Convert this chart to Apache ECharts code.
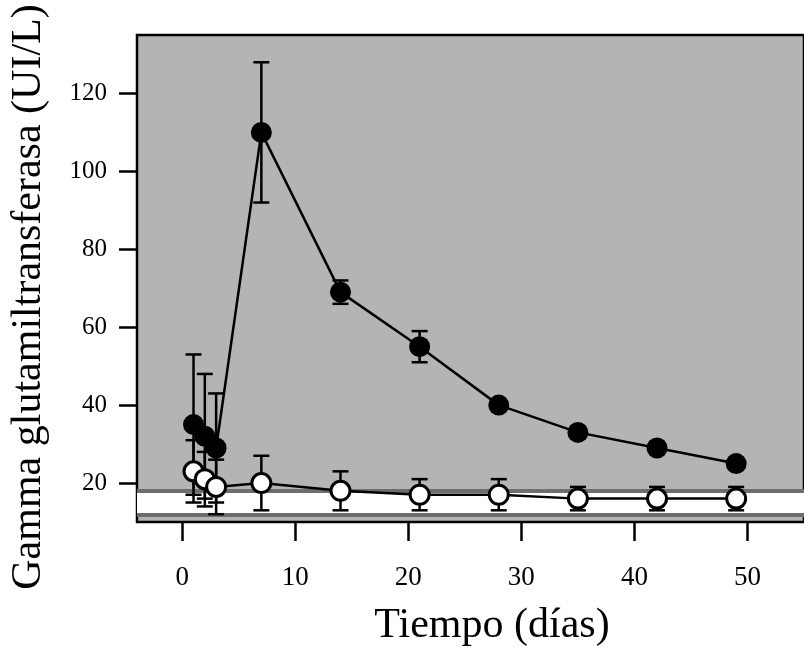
<!DOCTYPE html>
<html>
<head>
<meta charset="utf-8">
<style>
  html, body { margin: 0; padding: 0; background: #fff; }
  #chart { width: 804px; height: 648px; }
</style>
<script src="https://cdn.jsdelivr.net/npm/echarts@6/dist/echarts.min.js"></script>
</head>
<body>
<div id="chart"></div>
<script>
// Sampling days
const days = [1, 2, 3, 7, 14, 21, 28, 35, 42, 49];

// Treated group (filled circles): mean and error
const treatedMean = [35, 32, 29, 110, 69, 55, 40, 33, 29, 25];
const treatedErr  = [18, 16, 14, 18, 3, 4, 1, 1.5, 1.5, 1];

// Control group (open circles): mean and error
const controlMean = [23, 21, 19, 20, 18, 17, 17, 16, 16, 16];
const controlErr  = [8, 7, 7, 7, 5, 4, 4, 3, 3, 3];

// Reference range (lower, upper)
const refRange = [11.8, 18.1];

// Tick labels
const xTicks = [0, 10, 20, 30, 40, 50];
const yTicks = [20, 40, 60, 80, 100, 120];

const FONT = '"Liberation Serif", "Times New Roman", serif';

function pairs(xs, ys) { return xs.map((x, i) => [x, ys[i]]); }
function bars(xs, m, e) { return xs.map((x, i) => [x, m[i] - e[i], m[i] + e[i]]); }

// Vertical error bar with caps at both ends
function errorBarRender(params, api) {
  const x = api.value(0);
  const lo = api.coord([x, api.value(1)]);
  const hi = api.coord([x, api.value(2)]);
  const half = 8;
  const style = { stroke: '#000', lineWidth: 2.5 };
  return {
    type: 'group',
    children: [
      { type: 'line', shape: { x1: lo[0], y1: lo[1], x2: hi[0], y2: hi[1] }, style },
      { type: 'line', shape: { x1: hi[0] - half, y1: hi[1], x2: hi[0] + half, y2: hi[1] }, style },
      { type: 'line', shape: { x1: lo[0] - half, y1: lo[1], x2: lo[0] + half, y2: lo[1] }, style }
    ]
  };
}

const chart = echarts.init(document.getElementById('chart'));
chart.setOption({
  animation: false,
  backgroundColor: '#fff',
  grid: {
    left: 137, top: 35, width: 687, height: 487,
    show: true, backgroundColor: '#b4b4b4', borderColor: '#000', borderWidth: 2.5
  },
  xAxis: {
    type: 'value', min: -4, max: 55,
    splitLine: { show: false },
    axisLine: { show: false, onZero: false },
    axisTick: { show: true, customValues: xTicks, length: 19, lineStyle: { color: '#000', width: 2.5 } },
    axisLabel: { customValues: xTicks, margin: 42, color: '#000', fontFamily: FONT, fontSize: 27 }
  },
  yAxis: {
    type: 'value', min: 10, max: 135,
    splitLine: { show: false },
    axisLine: { show: false, onZero: false },
    axisTick: { show: true, customValues: yTicks, length: 18, lineStyle: { color: '#000', width: 2.5 } },
    axisLabel: { customValues: yTicks, margin: 30, color: '#000', fontFamily: FONT, fontSize: 25 }
  },
  graphic: [
    {
      type: 'text', x: 29, y: 297, rotation: Math.PI / 2,
      style: {
        text: 'Gamma glutamiltransferasa (UI/L)', fontFamily: FONT, fontSize: 42,
        fill: '#000', align: 'center', verticalAlign: 'middle'
      }
    },
    {
      type: 'text', x: 492, y: 626,
      style: {
        text: 'Tiempo (días)', fontFamily: FONT, fontSize: 42,
        fill: '#000', align: 'center', verticalAlign: 'middle'
      }
    }
  ],
  series: [
    {
      // Reference range band and its boundary lines
      type: 'line', data: [], z: 1, silent: true,
      markArea: {
        silent: true,
        itemStyle: { color: '#fff' },
        data: [[{ yAxis: refRange[0] }, { yAxis: refRange[1] }]]
      },
      markLine: {
        silent: true, symbol: 'none', label: { show: false },
        lineStyle: { color: '#6e6e6e', width: 4, type: 'solid' },
        data: [{ yAxis: refRange[0] }, { yAxis: refRange[1] }]
      }
    },
    {
      type: 'custom', z: 3, renderItem: errorBarRender,
      data: bars(days, treatedMean, treatedErr)
    },
    {
      type: 'line', z: 4, data: pairs(days, treatedMean),
      symbol: 'circle', symbolSize: 21,
      lineStyle: { color: '#000', width: 2.5 },
      itemStyle: { color: '#000' }
    },
    {
      type: 'custom', z: 5, renderItem: errorBarRender,
      data: bars(days, controlMean, controlErr)
    },
    {
      type: 'line', z: 6, data: pairs(days, controlMean),
      symbol: 'circle', symbolSize: 19,
      lineStyle: { color: '#000', width: 2.5 },
      itemStyle: { color: '#fff', borderColor: '#000', borderWidth: 3 }
    }
  ]
});
</script>
</body>
</html>
